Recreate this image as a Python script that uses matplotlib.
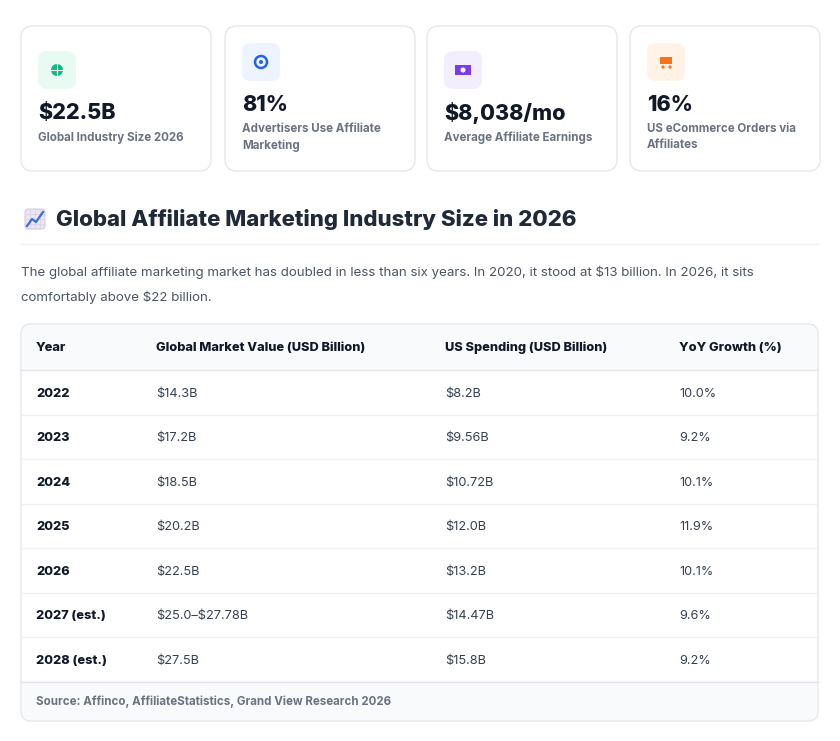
import matplotlib
matplotlib.use("Agg")
import matplotlib.pyplot as plt
from matplotlib.patches import FancyBboxPatch, Circle, Rectangle

plt.rcParams['font.family'] = ['Inter', 'DejaVu Sans']
plt.rcParams['text.parse_math'] = False

# card data
card_values = ["$22.5B", "81%", "$8,038/mo", "16%"]
card_labels = ["Global Industry Size 2026", "Advertisers Use Affiliate\nMarketing",
               "Average Affiliate Earnings", "US eCommerce Orders via\nAffiliates"]
icon_bg = ["#e8fbf2", "#eef4ff", "#f3eefe", "#fff3e8"]
icon_fg = ["#10b981", "#2563eb", "#7c3aed", "#f97316"]

# table data
columns = ["Year", "Global Market Value (USD Billion)", "US Spending (USD Billion)", "YoY Growth (%)"]
years = ["2022", "2023", "2024", "2025", "2026", "2027 (est.)", "2028 (est.)"]
global_value = ["$14.3B", "$17.2B", "$18.5B", "$20.2B", "$22.5B", "$25.0–$27.78B", "$27.5B"]
us_spending = ["$8.2B", "$9.56B", "$10.72B", "$12.0B", "$13.2B", "$14.47B", "$15.8B"]
yoy_growth = ["10.0%", "9.2%", "10.1%", "11.9%", "10.1%", "9.6%", "9.2%"]

fig = plt.figure(figsize=(8.4, 7.41), dpi=100)
ax = fig.add_axes([0, 0, 1, 1])
ax.set_xlim(0, 840)
ax.set_ylim(741, 0)
ax.axis('off')

dark = "#111827"
grey = "#6b7280"
border = "#e5e7eb"

card_x = [21, 225, 427, 630]
card_w = 190
for i, cx in enumerate(card_x):
    ax.add_patch(FancyBboxPatch((cx, 26), card_w, 145, boxstyle="round,pad=0,rounding_size=12",
                                fc="white", ec=border, lw=1))
    two = "\n" in card_labels[i]
    iy = 43 if two else 51
    ax.add_patch(FancyBboxPatch((cx + 17, iy), 38, 38, boxstyle="round,pad=0,rounding_size=9",
                                fc=icon_bg[i], ec="none"))
    icx, icy = cx + 36, iy + 19
    c = icon_fg[i]
    if i == 0:
        ax.add_patch(Circle((icx, icy), 6, fc=c, ec="none"))
        ax.plot([icx - 6, icx + 6], [icy, icy], color="white", lw=0.8)
        ax.plot([icx, icx], [icy - 6, icy + 6], color="white", lw=0.8)
    elif i == 1:
        ax.add_patch(Circle((icx, icy), 6, fc="none", ec=c, lw=1.8))
        ax.add_patch(Circle((icx, icy), 2, fc=c, ec="none"))
    elif i == 2:
        ax.add_patch(Rectangle((icx - 8, icy - 5), 16, 10, fc=c, ec="none"))
        ax.add_patch(Circle((icx, icy), 2.5, fc="white", ec="none"))
    else:
        ax.add_patch(Rectangle((icx - 6, icy - 5), 12, 7, fc=c, ec="none"))
        ax.add_patch(Circle((icx - 3, icy + 5), 1.6, fc=c, ec="none"))
        ax.add_patch(Circle((icx + 4, icy + 5), 1.6, fc=c, ec="none"))
    vy = 105 if two else 113
    ax.text(cx + 17, vy, card_values[i], fontsize=15.5, fontweight='heavy', color=dark, va='center')
    ax.text(cx + 17, vy + 18, card_labels[i], fontsize=8.3, fontweight='bold', color=grey,
            va='top', linespacing=1.45)

# heading with a drawn chart-up icon (no emoji font installed)
ax.add_patch(FancyBboxPatch((25, 209), 20, 20, boxstyle="round,pad=0,rounding_size=3",
                            fc="#ece6f3", ec="#c9bfd8", lw=0.6))
for gx in (30, 35, 40):
    ax.plot([gx, gx], [210, 228], color="#d6cde3", lw=0.5)
for gy in (214, 219, 224):
    ax.plot([26, 44], [gy, gy], color="#d6cde3", lw=0.5)
ax.plot([27, 32, 36, 43], [226, 219, 222, 212], color="#3b6fd8", lw=1.6)
ax.text(56, 220, "Global Affiliate Marketing Industry Size in 2026", fontsize=16,
        fontweight='heavy', color="#1f2937", va='center')
ax.plot([21, 818], [244, 244], color="#f0f1f3", lw=1)
ax.text(21, 272, "The global affiliate marketing market has doubled in less than six years. In 2020, it stood at $13 billion. In 2026, it sits",
        fontsize=9.6, color="#4b5563", va='center')
ax.text(21, 297, "comfortably above $22 billion.", fontsize=9.6, color="#4b5563", va='center')

# table
tx, ty, tw, th = 21, 324, 797, 397
ax.add_patch(FancyBboxPatch((tx, ty), tw, th, boxstyle="round,pad=0,rounding_size=10",
                            fc="white", ec=border, lw=1, zorder=1))
ax.add_patch(Rectangle((tx + 1, ty + 8), tw - 2, 38, fc="#f9fafb", ec="none", zorder=1))
ax.add_patch(FancyBboxPatch((tx + 1, ty + 1), tw - 2, 20, boxstyle="round,pad=0,rounding_size=9",
                            fc="#f9fafb", ec="none", zorder=1))
ax.add_patch(Rectangle((tx + 1, 682), tw - 2, 28, fc="#f9fafb", ec="none", zorder=1))
ax.add_patch(FancyBboxPatch((tx + 1, 690), tw - 2, 30, boxstyle="round,pad=0,rounding_size=9",
                            fc="#f9fafb", ec="none", zorder=1))
col_x = [36, 156, 445, 679]
for cx, name in zip(col_x, columns):
    ax.text(cx, 348, name, fontsize=9.2, fontweight='heavy', color=dark, va='center', zorder=3)
ax.plot([tx, tx + tw], [370, 370], color=border, lw=1, zorder=2)
row_h = 44.5
for r in range(len(years)):
    y = 371.5 + row_h * (r + 0.5)
    ax.text(col_x[0], y, years[r], fontsize=9.2, fontweight='heavy', color=dark, va='center', zorder=3)
    ax.text(col_x[1], y, global_value[r], fontsize=9.2, color="#374151", va='center', zorder=3)
    ax.text(col_x[2], y, us_spending[r], fontsize=9.2, color="#374151", va='center', zorder=3)
    ax.text(col_x[3], y, yoy_growth[r], fontsize=9.2, color="#374151", va='center', zorder=3)
    ax.plot([tx, tx + tw], [370 + row_h * (r + 1)] * 2, color="#eef0f2", lw=1, zorder=2)
ax.plot([tx, tx + tw], [682, 682], color=border, lw=1, zorder=2)
ax.text(36, 702, "Source: Affinco, AffiliateStatistics, Grand View Research 2026", fontsize=8.3,
        fontweight='bold', color=grey, va='center', zorder=3)

fig.savefig("out.png", dpi=100)
